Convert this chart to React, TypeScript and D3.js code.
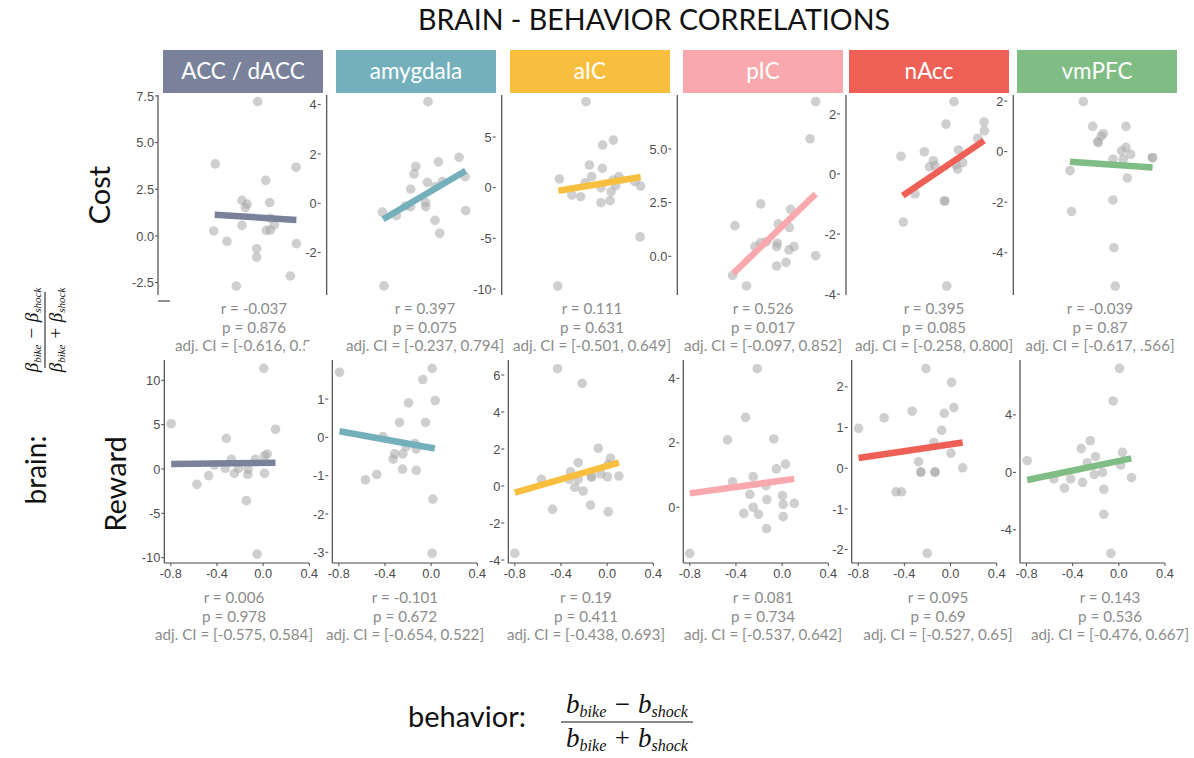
import React from "react";
import * as d3 from "d3";

// ---------- data ----------
const TITLE = "BRAIN - BEHAVIOR CORRELATIONS";
const REGIONS = ["ACC / dACC", "amygdala", "aIC", "pIC", "nAcc", "vmPFC"];
const REGION_COLORS = ["#79829a", "#74b0bb", "#f8bf3f", "#f9a8ae", "#ee5f56", "#80bd84"];
const ROW_LABELS = ["Cost", "Reward"];

const X_TICKS = [-0.8, -0.4, 0.0, 0.4];

const COST_Y_TICKS = [
  [7.5, 5, 2.5, 0, -2.5],
  [4, 2, 0, -2],
  [5, 0, -5, -10],
  [5, 2.5, 0],
  [2, 0, -2, -4],
  [2, 0, -2, -4],
];
const REWARD_Y_TICKS = [
  [10, 5, 0, -5, -10],
  [1, 0, -1, -2, -3],
  [6, 4, 2, 0, -2, -4],
  [4, 2, 0],
  [2, 1, 0, -1, -2],
  [4, 0, -4],
];

// [behavior, brain] per subject
const COST_POINTS: number[][][] = [
  [[0.003, 7.2], [-0.364, 3.86], [0.335, 3.68], [0.072, 2.98], [-0.133, 1.91], [-0.089, 1.71], [-0.104, 1.52], [0.107, 1.79], [0.113, 0.95], [0.147, 0.59], [-0.133, 0.57], [0.078, 0.3], [0.113, 0.32], [-0.378, 0.27], [-0.263, -0.29], [0.338, -0.41], [-0.006, -0.68], [-0.006, -1.13], [0.286, -2.14], [-0.182, -2.68]],
  [[0.017, 4.12], [-0.089, 1.49], [-0.104, 1.19], [0.107, 1.68], [0.286, 1.86], [0.338, 1.08], [0.012, 0.85], [0.141, 0.88], [0.084, 0.68], [-0.133, 0.57], [-0.003, 0.03], [-0.003, -0.14], [-0.133, -0.14], [-0.378, -0.36], [-0.257, -0.5], [0.078, -0.69], [0.118, -1.22], [0.343, -0.3], [-0.364, -3.35], [-0.176, -0.11]],
  [[-0.13, 8.49], [0.107, 4.7], [0.014, 4.21], [-0.101, 2.24], [0.012, 1.91], [-0.361, 0.86], [-0.081, 1.09], [-0.138, 0.49], [0.107, 0.76], [0.156, 1.09], [0.127, 0.2], [0.0, 0.0], [0.087, -0.39], [0.294, 0.59], [0.343, 0.16], [-0.254, -0.72], [-0.176, -0.89], [0.0, -1.48], [0.078, -1.28], [0.338, -4.84], [-0.375, -9.7]],
  [[0.338, 7.2], [0.289, 5.47], [-0.138, 2.44], [-0.361, 1.43], [0.121, 2.19], [0.014, 1.51], [0.11, 1.34], [-0.138, 0.64], [-0.087, 0.68], [-0.188, 0.45], [0.006, 0.61], [0.0, 0.45], [0.15, 0.45], [0.107, 0.3], [0.0, -0.45], [0.081, -0.28], [0.338, 0.03], [-0.381, -0.89], [-0.26, -1.38]],
  [[0.075, 2.41], [0.006, 1.66], [0.335, 1.73], [0.338, 1.44], [0.28, 1.19], [-0.384, 0.59], [-0.182, 0.74], [0.113, 0.8], [-0.104, 0.44], [-0.138, 0.24], [-0.089, 0.27], [0.092, 0.3], [0.15, 0.38], [0.107, 0.16], [-0.263, -0.66], [-0.009, -0.9], [-0.003, -0.9], [-0.364, -1.6], [0.012, -3.73]],
  [[-0.254, 1.98], [-0.173, 1.0], [0.115, 1.0], [-0.081, 0.71], [-0.098, 0.61], [-0.124, 0.36], [-0.13, 0.4], [0.115, 0.17], [0.078, 0.03], [0.156, -0.11], [0.003, -0.3], [0.092, -0.3], [0.346, -0.24], [0.343, -0.24], [-0.369, -0.75], [0.127, -1.04], [0.003, -1.91], [-0.355, -2.37], [0.012, -3.8], [0.023, -5.32]],
];

const REWARD_POINTS: number[][][] = [
  [[0.006, 11.35], [-0.797, 5.11], [0.107, 4.47], [-0.319, 3.46], [0.035, 1.69], [0.012, 1.47], [-0.067, 1.09], [-0.275, 1.09], [-0.423, 0.45], [-0.328, 0.08], [-0.212, 0.08], [-0.13, -0.04], [-0.249, -0.49], [-0.133, -0.6], [0.012, -0.49], [-0.472, -0.75], [-0.574, -1.73], [-0.145, -3.57], [-0.052, -9.6]],
  [[-0.794, 1.7], [0.009, 1.8], [-0.072, 1.51], [-0.196, 0.9], [0.035, 0.96], [-0.274, 0.39], [-0.049, 0.39], [-0.418, 0.02], [-0.141, -0.16], [-0.217, -0.24], [-0.129, -0.3], [-0.317, -0.43], [-0.245, -0.43], [-0.329, -0.57], [-0.248, -0.83], [-0.129, -0.86], [-0.471, -0.97], [-0.569, -1.11], [0.015, -1.61], [0.009, -3.03]],
  [[-0.43, 6.34], [-0.216, 5.55], [-0.077, 2.04], [0.029, 1.5], [-0.251, 1.26], [0.009, 1.17], [-0.317, 0.77], [-0.569, 0.36], [-0.329, 0.36], [-0.251, 0.36], [-0.135, 0.54], [-0.054, 0.65], [-0.135, 0.47], [0.003, 0.5], [0.102, 0.54], [-0.28, -0.07], [-0.208, -0.27], [-0.473, -1.26], [-0.144, -1.03], [0.009, -1.39], [-0.8, -3.64]],
  [[-0.216, 4.3], [-0.317, 2.79], [-0.473, 2.09], [-0.072, 2.12], [0.029, 1.34], [-0.049, 1.19], [-0.251, 0.95], [-0.43, 0.79], [-0.141, 0.67], [-0.28, 0.4], [0.003, 0.36], [-0.132, 0.24], [0.009, 0.09], [0.105, 0.12], [-0.251, 0.0], [-0.332, -0.19], [-0.205, -0.22], [0.009, -0.29], [-0.135, -0.66], [-0.8, -1.43]],
  [[-0.213, 2.45], [0.009, 2.11], [0.029, 1.49], [-0.332, 1.4], [-0.054, 1.35], [-0.575, 1.24], [-0.077, 0.93], [-0.797, 0.98], [-0.144, 0.63], [0.003, 0.37], [-0.277, 0.16], [0.105, 0.01], [-0.257, -0.09], [-0.257, -0.1], [-0.135, -0.09], [-0.135, -0.1], [-0.473, -0.58], [-0.424, -0.58], [-0.202, -2.09]],
  [[0.006, 7.24], [-0.049, 4.97], [-0.248, 2.2], [-0.326, 1.65], [-0.202, 1.09], [0.032, 1.39], [-0.274, 0.67], [-0.794, 0.81], [0.015, 0.51], [-0.141, 0.0], [-0.213, -0.14], [-0.563, -0.46], [-0.418, -0.46], [0.11, -0.37], [-0.314, -0.7], [-0.471, -1.09], [-0.13, -1.18], [-0.13, -2.92], [-0.069, -5.64]],
];

// fitted regression segments: [x0, y0, x1, y1]
const COST_FITS = [
  [-0.369, 1.14, 0.338, 0.86],
  [-0.372, -0.65, 0.343, 1.32],
  [-0.369, -0.3, 0.343, 1.05],
  [-0.375, -0.79, 0.338, 2.9],
  [-0.369, -0.72, 0.335, 1.11],
  [-0.369, -0.4, 0.346, -0.63],
];
const REWARD_FITS = [
  [-0.797, 0.56, 0.107, 0.71],
  [-0.794, 0.16, 0.032, -0.29],
  [-0.8, -0.36, 0.102, 1.26],
  [-0.8, 0.43, 0.105, 0.88],
  [-0.797, 0.25, 0.105, 0.63],
  [-0.794, -0.53, 0.108, 0.97],
];

const COST_R = ["-0.037", "0.397", "0.111", "0.526", "0.395", "-0.039"];
const COST_P = ["0.876", "0.075", "0.631", "0.017", "0.085", "0.87"];
const COST_CI = ["[-0.616, 0.547]", "[-0.237, 0.794]", "[-0.501, 0.649]", "[-0.097, 0.852]", "[-0.258, 0.800]", "[-0.617, .566]"];
const REWARD_R = ["0.006", "-0.101", "0.19", "0.081", "0.095", "0.143"];
const REWARD_P = ["0.978", "0.672", "0.411", "0.734", "0.69", "0.536"];
const REWARD_CI = ["[-0.575, 0.584]", "[-0.654, 0.522]", "[-0.438, 0.693]", "[-0.537, 0.642]", "[-0.527, 0.65]", "[-0.476, 0.667]"];

// ---------- layout ----------
const W = 1194;
const H = 758;
const SANS = "Lato, 'Open Sans', sans-serif";
const TICK_FONT = "'Liberation Sans', Arial, sans-serif";
const SERIF = "'Liberation Serif', 'Times New Roman', serif";
const STAT_COLOR = "#8c8c8c";
const TICK_COLOR = "#4d4d4d";

const STRIP_X = [163, 336, 510, 683, 849, 1017];
const STRIP_W = 160;
const STRIP_Y = 50;
const STRIP_H = 43;

const ROWS = [
  {
    axisX: [158, 326.7, 501.7, 677.3, 846, 1013.3],
    top: 95,
    bottom: 295,
    yDomains: [[-3.16, 7.55], [-3.72, 4.39], [-10.59, 9.15], [-1.8, 7.51], [-4.03, 2.63], [-5.67, 2.24]],
    yTicks: COST_Y_TICKS,
    decimals: [1, 0, 0, 1, 0, 0],
    xDomain: [-0.86, 0.41],
    xOffset: [0, 146.7],
    labelGap: [0, 6, 6, 6, 6, 6],
    points: COST_POINTS,
    fits: COST_FITS,
    r: COST_R,
    p: COST_P,
    ci: COST_CI,
    statX: [254, 425, 592, 763, 934, 1100],
    statY: 314,
    xAxis: false,
  },
  {
    axisX: [164.3, 332.3, 508.3, 683.3, 851.7, 1020],
    top: 360,
    bottom: 563,
    yDomains: [[-10.6, 12.29], [-3.28, 2.02], [-4.16, 6.81], [-1.73, 4.57], [-2.33, 2.66], [-6.31, 7.82]],
    yTicks: REWARD_Y_TICKS,
    decimals: [0, 0, 0, 0, 0, 0],
    xDomain: [-0.8, 0.4],
    xOffset: [6.5, 145],
    labelGap: [0, 4, 4, 4, 4, 4],
    points: REWARD_POINTS,
    fits: REWARD_FITS,
    r: REWARD_R,
    p: REWARD_P,
    ci: REWARD_CI,
    statX: [234, 405, 586, 763, 938, 1110],
    statY: 603,
    xAxis: true,
  },
];

const locale = d3.formatLocale({ decimal: ".", thousands: ",", grouping: [3], currency: ["", ""], minus: "-" });

type PanelProps = {
  axisX: number;
  top: number;
  bottom: number;
  yDomain: number[];
  yTicks: number[];
  decimals: number;
  xDomain: number[];
  xOffset: number[];
  labelGap: number;
  points: number[][];
  fit: number[];
  color: string;
  xAxis: boolean;
};

function Panel(props: PanelProps) {
  const { axisX, top, bottom, yDomain, yTicks, decimals, xDomain, xOffset, labelGap, points, fit, color, xAxis } = props;
  const x = d3.scaleLinear().domain(xDomain).range([axisX + xOffset[0], axisX + xOffset[1]]);
  const y = d3.scaleLinear().domain(yDomain).range([bottom, top]);
  const fmtY = locale.format(`.${decimals}f`);
  const fmtX = locale.format(".1f");
  const line = d3
    .line<number[]>()
    .x((d) => x(d[0]))
    .y((d) => y(d[1]));
  const tickRight = axisX - labelGap;
  return (
    <g>
      {points.map((d, i) => (
        <circle key={i} cx={x(d[0])} cy={y(d[1])} r={4.8} fill="#a8a8a8" fillOpacity={0.55} />
      ))}
      <path d={line([[fit[0], fit[1]], [fit[2], fit[3]]]) || ""} stroke={color} strokeWidth={6.5} fill="none" />
      <line x1={axisX} x2={axisX} y1={top} y2={bottom} stroke="#4a4a4a" strokeWidth={1.2} />
      {yTicks.map((t) => (
        <g key={t}>
          <line x1={tickRight - 3} x2={tickRight} y1={y(t)} y2={y(t)} stroke="#4a4a4a" strokeWidth={1} />
          <text
            x={tickRight - 4}
            y={y(t)}
            dy="0.36em"
            textAnchor="end"
            fontFamily={TICK_FONT}
            fontSize={12.8}
            fill={TICK_COLOR}
          >
            {fmtY(t)}
          </text>
        </g>
      ))}
      {xAxis && (
        <g>
          <line x1={axisX} x2={x(0.4)} y1={bottom} y2={bottom} stroke="#4a4a4a" strokeWidth={1.2} />
          {X_TICKS.map((t) => (
            <g key={t}>
              <line x1={x(t)} x2={x(t)} y1={bottom} y2={bottom + 3} stroke="#4a4a4a" strokeWidth={1} />
              <text
                x={x(t)}
                y={bottom + 15}
                textAnchor="middle"
                fontFamily={TICK_FONT}
                fontSize={12.8}
                fill={TICK_COLOR}
              >
                {fmtX(t)}
              </text>
            </g>
          ))}
        </g>
      )}
    </g>
  );
}

function Stats({ cx, y, r, p, ci, clip }: { cx: number; y: number; r: string; p: string; ci: string; clip?: string }) {
  const common = { x: cx, textAnchor: "middle" as const, fontFamily: SANS, fontSize: 15.2, fill: STAT_COLOR };
  return (
    <g>
      <text {...common} y={y}>{`r = ${r}`}</text>
      <text {...common} y={y + 18.5}>{`p = ${p}`}</text>
      <text {...common} y={y + 37} clipPath={clip}>{`adj. CI = ${ci}`}</text>
    </g>
  );
}

export default function App() {
  return (
    <svg width={W} height={H} style={{ position: "absolute", left: 0, top: 0, background: "#fff" }}>
      <defs>
        {/* the amygdala panel overlaps the tail of the first CI line */}
        <clipPath id="acc-ci-clip">
          <rect x={0} y={300} width={305} height={70} />
          <rect x={305} y={300} width={8} height={43} />
        </clipPath>
      </defs>
      <rect x={0} y={0} width={W} height={H} fill="#fff" />
      <text x={654} y={30} textAnchor="middle" fontFamily={SANS} fontSize={28.6} fill="#111">
        {TITLE}
      </text>

      {REGIONS.map((name, i) => (
        <g key={name}>
          <rect x={STRIP_X[i]} y={STRIP_Y} width={STRIP_W} height={STRIP_H} fill={REGION_COLORS[i]} />
          <text
            x={STRIP_X[i] + STRIP_W / 2}
            y={STRIP_Y + STRIP_H / 2 + 7.5}
            textAnchor="middle"
            fontFamily={SANS}
            fontSize={22.5}
            fill="#fff"
          >
            {name}
          </text>
        </g>
      ))}

      {/* stub of the cost-row x axis */}
      <line x1={158} x2={170} y1={301} y2={301} stroke="#4a4a4a" strokeWidth={1.2} />

      {ROWS.map((row, ri) =>
        REGIONS.map((name, i) => (
          <g key={`${ri}-${i}`}>
            <Panel
              axisX={row.axisX[i]}
              top={row.top}
              bottom={row.bottom}
              yDomain={row.yDomains[i]}
              yTicks={row.yTicks[i]}
              decimals={row.decimals[i]}
              xDomain={row.xDomain}
              xOffset={row.xOffset}
              labelGap={row.labelGap[i]}
              points={row.points[i]}
              fit={row.fits[i]}
              color={REGION_COLORS[i]}
              xAxis={row.xAxis}
            />
            <Stats
              cx={row.statX[i]}
              y={row.statY}
              r={row.r[i]}
              p={row.p[i]}
              ci={row.ci[i]}
              clip={ri === 0 && i === 0 ? "url(#acc-ci-clip)" : undefined}
            />
          </g>
        ))
      )}

      {/* row labels */}
      <text transform="translate(110,195) rotate(-90)" textAnchor="middle" fontFamily={SANS} fontSize={29} fill="#111">
        {ROW_LABELS[0]}
      </text>
      <text transform="translate(126,484) rotate(-90)" textAnchor="middle" fontFamily={SANS} fontSize={29} fill="#111">
        {ROW_LABELS[1]}
      </text>

      {/* brain axis label */}
      <text transform="translate(46,470) rotate(-90)" textAnchor="middle" fontFamily={SANS} fontSize={28} fill="#111">
        brain:
      </text>
      <g transform="translate(45,330) rotate(-90)" fontFamily={SERIF} fontStyle="italic" fill="#111">
        <text x={0} y={-7} textAnchor="middle" fontSize={19}>
          β<tspan fontSize={11} dy={3}>bike</tspan>
          <tspan dy={-3}> − β</tspan>
          <tspan fontSize={11} dy={3}>shock</tspan>
        </text>
        <line x1={-38} x2={38} y1={0} y2={0} stroke="#111" strokeWidth={1} />
        <text x={0} y={17} textAnchor="middle" fontSize={19}>
          β<tspan fontSize={11} dy={3}>bike</tspan>
          <tspan dy={-3}> + β</tspan>
          <tspan fontSize={11} dy={3}>shock</tspan>
        </text>
      </g>

      {/* behavior axis label */}
      <text x={408} y={727} fontFamily={SANS} fontSize={29} fill="#111">
        behavior:
      </text>
      <g fontFamily={SERIF} fontStyle="italic" fill="#111">
        <text x={627} y={713} textAnchor="middle" fontSize={27}>
          b<tspan fontSize={16} dy={4}>bike</tspan>
          <tspan dy={-4}> − b</tspan>
          <tspan fontSize={16} dy={4}>shock</tspan>
        </text>
        <line x1={561} x2={693} y1={722} y2={722} stroke="#111" strokeWidth={1.2} />
        <text x={627} y={747} textAnchor="middle" fontSize={27}>
          b<tspan fontSize={16} dy={4}>bike</tspan>
          <tspan dy={-4}> + b</tspan>
          <tspan fontSize={16} dy={4}>shock</tspan>
        </text>
      </g>
    </svg>
  );
}
